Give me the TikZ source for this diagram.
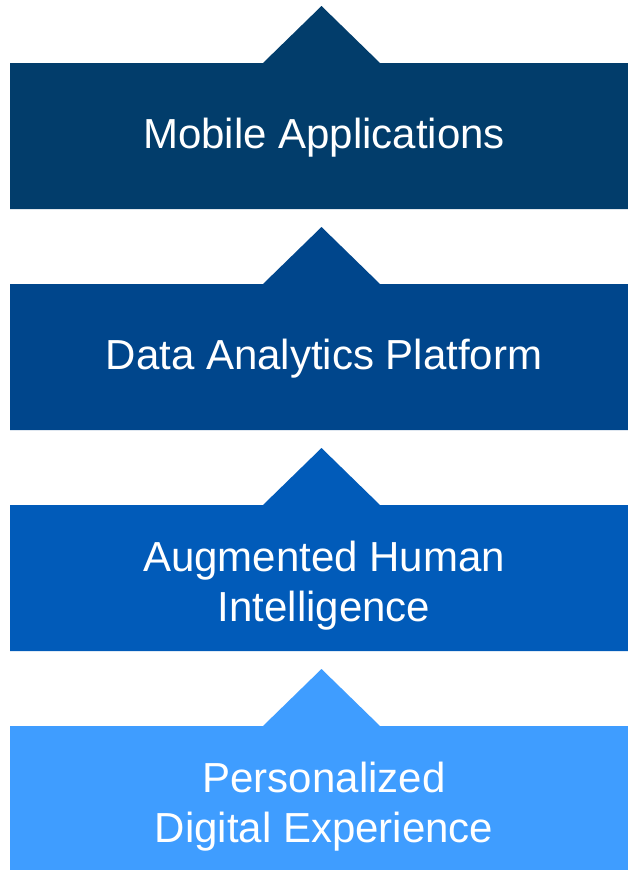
\documentclass[tikz,border=0pt]{standalone}
\usepackage{fontspec}
\setmainfont{Liberation Sans}
\definecolor{cA}{HTML}{023D6B}
\definecolor{cB}{HTML}{00468C}
\definecolor{cC}{HTML}{015BB9}
\definecolor{cD}{HTML}{3F9DFF}
\tikzset{
  lbl/.style={text=white,font=\fontsize{42}{50}\selectfont,align=center,anchor=base,inner sep=0pt},
}
\begin{document}
\begin{tikzpicture}[x=1pt,y=-1pt]
\useasboundingbox (0,0) rectangle (628,870);
\fill[white] (0,0) rectangle (628,870);
% levels: top of box T, apex T-57
\foreach \T/\c in {63/cA,284/cB,505/cC,726/cD}{
  \fill[\c] (10,\T) -- (263,\T) -- (321.5,\T-57) -- (380,\T) -- (630,\T) -- (630,\T+146) -- (10,\T+146) -- cycle;
}
\fill[cD] (10,860) rectangle (630,872);
\node[lbl] (m) at (324,148) {Mobile Applications};
\node[lbl] (d) at (324,369) {Data Analytics Platform};
\node[lbl] (a1) at (324,571) {Augmented Human};
\node[lbl] (a2) at (324,621) {Intelligence};
\node[lbl] (p1) at (324,792) {Personalized};
\node[lbl] (p2) at (324,842) {Digital Experience};
\end{tikzpicture}
\end{document}
